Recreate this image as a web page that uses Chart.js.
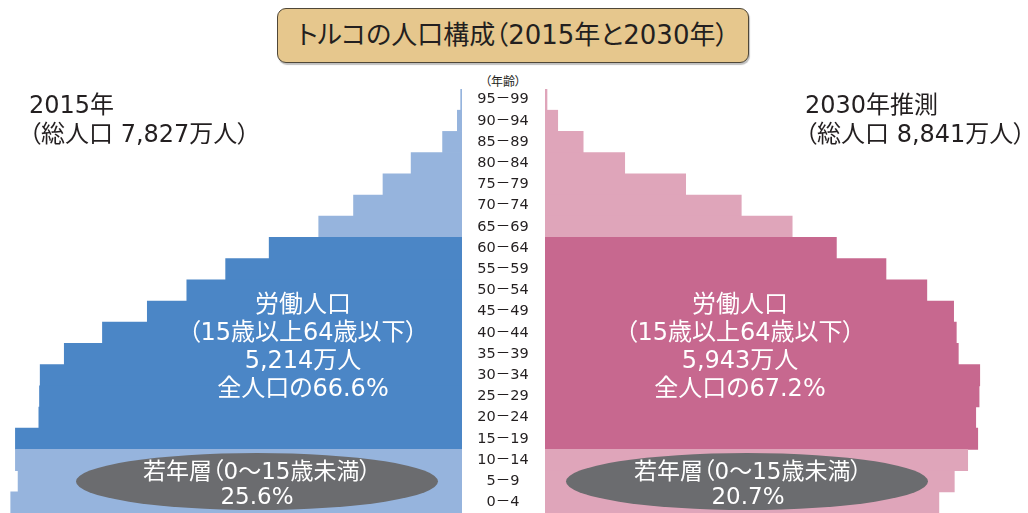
<!DOCTYPE html>
<html lang="ja">
<head>
<meta charset="utf-8">
<script src="https://cdn.jsdelivr.net/npm/chart.js@4/dist/chart.umd.min.js"></script>
<style>
  html, body { margin: 0; padding: 0; background: #fff; }
  body {
    width: 1028px; height: 513px; position: relative; overflow: hidden;
    font-family: "DejaVu Sans", "Noto Sans CJK JP", sans-serif; color: #231f20;
    font-feature-settings: "palt";
  }
  .abs { position: absolute; white-space: nowrap; }
  .mid { transform: translateX(-50%); text-align: center; }
  #left { left: 0; top: 89px; width: 462px; height: 424px; }
  #right { left: 462px; top: 89px; width: 566px; height: 424px; }
  .title {
    left: 277px; top: 8px; width: 472px; height: 55px; box-sizing: border-box;
    background: #e6c78d; border: 1.5px solid #4f4738; border-radius: 9px;
    box-shadow: 1px 2px 1px rgba(0, 0, 0, .25);
    font-size: 26px; line-height: 52px; text-align: center;
  }
  .year { font-size: 24px; line-height: 29px; }
  .ageHead { left: 503px; top: 72px; font-size: 12px; }
  .inner { color: #fff; font-size: 24px; line-height: 28px; }
  .oval { background: #6b6c6f; border-radius: 50%; width: 362px; height: 57px; top: 453px; }
  .ovalText { color: #fff; font-size: 23px; line-height: 25px; top: 459px; }
</style>
</head>
<body>
<div class="abs" id="left"><canvas id="pyr2015"></canvas></div>
<div class="abs" id="right"><canvas id="pyr2030"></canvas></div>

<div class="abs title">トルコの人口構成（2015年と2030年）</div>
<div class="abs year" style="left:29px; top:91px;">2015年<br>（総人口 7,827万人）</div>
<div class="abs year" style="left:805px; top:91px;">2030年推測<br>（総人口 8,841万人）</div>
<div class="abs mid ageHead">（年齢）</div>

<div class="abs mid inner" style="left:303px; top:290px;">労働人口<br>（15歳以上64歳以下）<br>5,214万人<br>全人口の66.6%</div>
<div class="abs mid inner" style="left:740px; top:290px;">労働人口<br>（15歳以上64歳以下）<br>5,943万人<br>全人口の67.2%</div>

<div class="abs oval" style="left:76px;"></div>
<div class="abs oval" style="left:566px;"></div>
<div class="abs mid ovalText" style="left:257px;">若年層（0〜15歳未満）<br>25.6%</div>
<div class="abs mid ovalText" style="left:748px;">若年層（0〜15歳未満）<br>20.7%</div>

<script>
(() => {
    'use strict';

    // age groups, oldest first (top of the pyramid)
    const ageGroups = ['95－99', '90－94', '85－89', '80－84', '75－79', '70－74', '65－69',
        '60－64', '55－59', '50－54', '45－49', '40－44', '35－39', '30－34', '25－29',
        '20－24', '15－19', '10－14', '5－9', '0－4'];
    // population, 万人
    const pop2015 = [2, 7, 29, 76, 118, 162, 214, 288, 353, 411, 470, 537, 594, 630, 631, 632, 667, 667, 663, 674];
    const pop2030 = [3, 19, 57, 119, 210, 293, 369, 435, 509, 570, 610, 614, 617, 649, 648, 643, 646, 631, 611, 588];

    const isWorking = age => {
        const low = parseInt(age, 10);
        return low >= 15 && low < 65;
    };
    const shade = (dark, light) => ageGroups.map(a => isWorking(a) ? dark : light);

    // age labels sit in the gap between the two pyramids
    const ageLabels = {
        id: 'ageLabels',
        afterDraw(chart) {
            const { ctx, chartArea, scales } = chart;
            ctx.save();
            ctx.fillStyle = '#231f20';
            ctx.font = '14.5px "DejaVu Sans", "Noto Sans CJK JP", sans-serif';
            ctx.textAlign = 'center';
            ctx.textBaseline = 'middle';
            ageGroups.forEach((age, i) => {
                ctx.fillText(age, chartArea.left - 42, scales.y.getPixelForValue(i));
            });
            ctx.restore();
        }
    };

    const baseOptions = (max, reverse, padLeft) => ({
        indexAxis: 'y',
        responsive: true,
        maintainAspectRatio: false,
        animation: false,
        layout: { padding: { left: padLeft, right: 0, top: 0, bottom: 0 } },
        plugins: { legend: { display: false }, tooltip: { enabled: false } },
        scales: {
            x: { display: false, min: 0, max, reverse },
            y: { display: false }
        }
    });

    new Chart(document.getElementById('pyr2015'), {
        type: 'bar',
        data: {
            labels: ageGroups,
            datasets: [{
                data: pop2015,
                backgroundColor: shade('#4b86c6', '#96b4dd'),
                categoryPercentage: 1, barPercentage: 1, borderWidth: 0
            }]
        },
        options: baseOptions(690, true, 0)
    });

    new Chart(document.getElementById('pyr2030'), {
        type: 'bar',
        data: {
            labels: ageGroups,
            datasets: [{
                data: pop2030,
                backgroundColor: shade('#c7688f', '#dfa5ba'),
                categoryPercentage: 1, barPercentage: 1, borderWidth: 0
            }]
        },
        options: baseOptions(721, false, 83),
        plugins: [ageLabels]
    });
})();
</script>
</body>
</html>
